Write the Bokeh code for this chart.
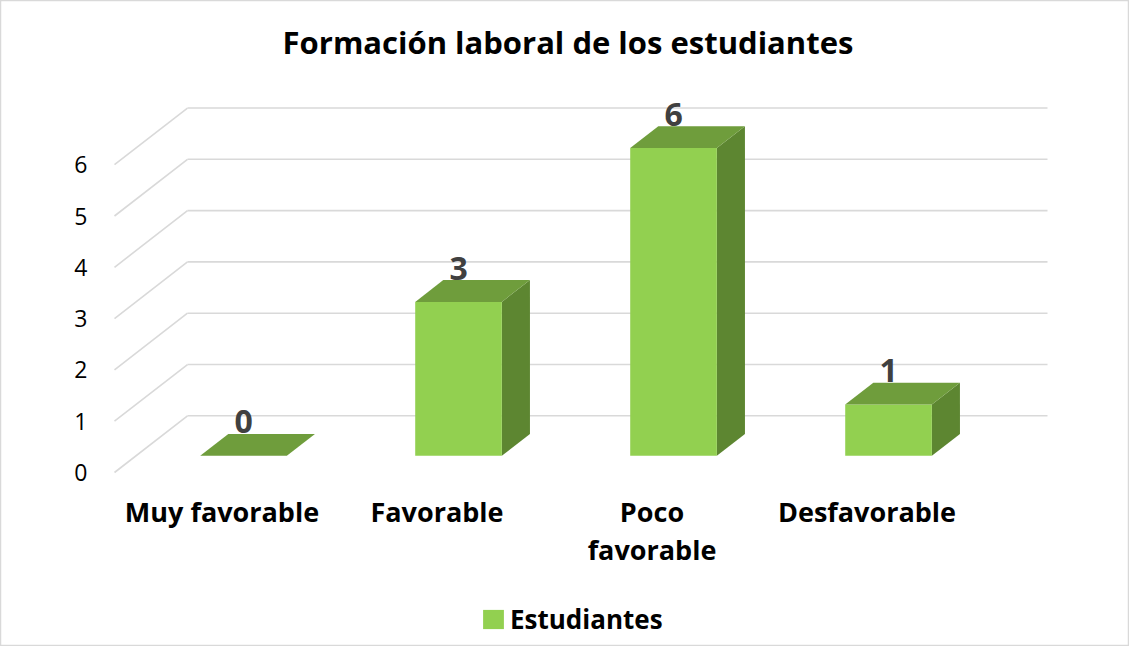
from bokeh.plotting import figure
from bokeh.models import Range1d, Label, Legend, LegendItem
from bokeh.core.properties import value
from bokeh.embed import file_html
from bokeh.resources import INLINE

# ---- data ----
categories = ["Muy favorable", "Favorable", "Poco favorable", "Desfavorable"]
category_labels = ["Muy favorable", "Favorable", "Poco\nfavorable", "Desfavorable"]
estudiantes = [0, 3, 6, 1]
y_ticks = [0, 1, 2, 3, 4, 5, 6]
title_text = "Formación laboral de los estudiantes"
series_name = "Estudiantes"

# ---- 3D projection parameters (in data units) ----
DX = 0.3395      # full depth shift along x (category units)
DY = 1.105       # full depth shift along y (value units)
F_FRONT = 0.295  # depth of bar front face
F_BACK = 0.68    # depth of bar back face
BAR_W = 0.403

FRONT = "#92d050"
TOP = "#6f9d3c"
SIDE = "#5d8631"
GRID = "#d9d9d9"
FONT = "Open Sans"

W, H = 1129, 646
p = figure(width=W, height=H, output_backend="svg", toolbar_location=None,
           x_range=Range1d(-0.5302, 4.7209), y_range=Range1d(-3.3918, 9.2008),
           min_border=0, min_border_left=0, min_border_right=0,
           min_border_top=0, min_border_bottom=0)
p.xaxis.visible = False
p.yaxis.visible = False
p.xgrid.visible = False
p.ygrid.visible = False
p.outline_line_color = GRID
p.outline_line_width = 1.5
p.background_fill_color = "white"
p.border_fill_color = "white"

n = len(categories)
# back wall gridlines
p.segment(x0=[DX] * len(y_ticks), y0=[t + DY for t in y_ticks],
          x1=[n + DX] * len(y_ticks), y1=[t + DY for t in y_ticks],
          line_color=GRID, line_width=1.6)
# left wall gridlines (diagonals)
p.segment(x0=[0] * len(y_ticks), y0=y_ticks,
          x1=[DX] * len(y_ticks), y1=[t + DY for t in y_ticks],
          line_color=GRID, line_width=1.6)

# y tick labels
p.text(x=[0] * len(y_ticks), y=y_ticks, text=[str(t) for t in y_ticks],
       x_offset=-27, text_align="right", text_baseline="middle",
       text_font=value(FONT), text_font_size="23px", text_color="#000000")

# bars
lefts = [i + 0.5 - BAR_W / 2 + F_FRONT * DX for i in range(n)]
rights = [l + BAR_W for l in lefts]
bottoms = [F_FRONT * DY] * n
tops = [v + F_FRONT * DY for v in estudiantes]
ddx = (F_BACK - F_FRONT) * DX
ddy = (F_BACK - F_FRONT) * DY

side_xs = [[r, r + ddx, r + ddx, r] for r in rights]
side_ys = [[b, b + ddy, t + ddy, t] for b, t in zip(bottoms, tops)]
top_xs = [[l, r, r + ddx, l + ddx] for l, r in zip(lefts, rights)]
top_ys = [[t, t, t + ddy, t + ddy] for t in tops]

p.patches(xs=[s for s, v in zip(side_xs, estudiantes) if v > 0],
          ys=[s for s, v in zip(side_ys, estudiantes) if v > 0],
          fill_color=SIDE, line_color=None)
front = p.quad(left=lefts, right=rights, bottom=bottoms, top=tops,
               fill_color=FRONT, line_color=None)
p.patches(xs=top_xs, ys=top_ys, fill_color=TOP, line_color=None)

# data labels
p.text(x=[(l + r) / 2 for l, r in zip(lefts, rights)],
       y=[v + F_BACK * DY for v in estudiantes],
       text=[str(v) for v in estudiantes], y_offset=-12,
       text_align="center", text_baseline="alphabetic",
       text_font=value(FONT), text_font_style="bold", text_font_size="32px",
       text_color="#404040")

# category labels
p.text(x=[i + 0.5 for i in range(n)], y=[-0.40] * n, text=category_labels,
       text_align="center", text_baseline="top", text_line_height=1.02,
       text_font=value(FONT), text_font_style="bold", text_font_size="27px",
       text_color="#000000")

# title
p.add_layout(Label(x=567.5, y=604.3, x_units="screen", y_units="screen",
                   text=title_text, text_align="center", text_baseline="alphabetic",
                   text_font=FONT, text_font_style="bold", text_font_size="31px",
                   text_color="#000000"))

legend = Legend(items=[LegendItem(label=series_name, renderers=[front])],
                location=(480, 9), orientation="horizontal",
                label_text_font=FONT, label_text_font_style="bold",
                label_text_font_size="26px", label_text_color="#000000",
                glyph_width=26, glyph_height=24, label_standoff=4,
                padding=0, margin=0, spacing=0,
                border_line_color=None, background_fill_alpha=0)
p.add_layout(legend)

open("out.html", "w").write(file_html(p, INLINE))
